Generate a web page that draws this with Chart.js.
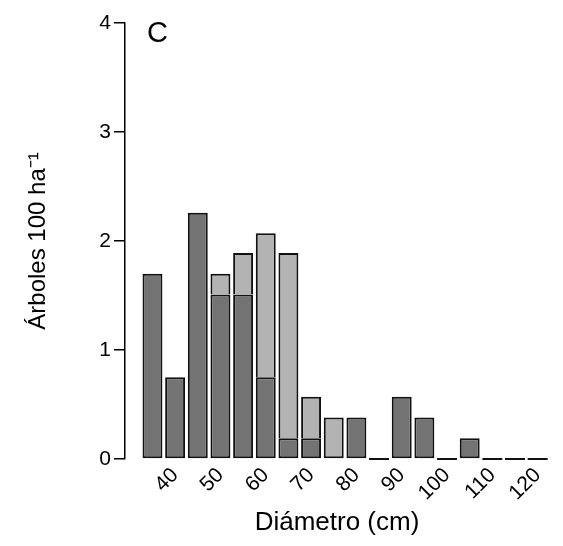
<!DOCTYPE html>
<html>
<head>
<meta charset="utf-8">
<script src="https://cdn.jsdelivr.net/npm/chart.js@4/dist/chart.umd.min.js"></script>
<style>
html,body{margin:0;padding:0;background:#fff;}
#wrap{width:563px;height:546px;}
</style>
</head>
<body>
<div id="wrap"><canvas id="c" width="563" height="546"></canvas></div>
<script>
// Diameter class (cm)
const diameters = [35, 40, 45, 50, 55, 60, 65, 70, 75, 80, 85, 90, 95, 100, 105, 110, 115, 120];
// Trees per 100 ha, dark (lower) series
const darkValues = [1.70, 0.75, 2.26, 1.51, 1.51, 0.75, 0.19, 0.19, 0, 0.38, 0, 0.57, 0.38, 0, 0.19, 0, 0, 0];
// Trees per 100 ha, light (upper) series
const lightValues = [0, 0, 0, 0.19, 0.38, 1.32, 1.70, 0.38, 0.38, 0, 0, 0, 0, 0, 0, 0, 0, 0];
const xTicks = [40, 50, 60, 70, 80, 90, 100, 110, 120];
const yTicks = [0, 1, 2, 3, 4];
const panelLabel = 'C';
const xTitle = 'Diámetro (cm)';
const yTitle = 'Árboles 100 ha⁻¹';

const FONT = "'Liberation Sans', Arial, Helvetica, sans-serif";

const zeroBars = {
  id: 'zeroBars',
  afterDatasetsDraw(chart) {
    const meta = chart.getDatasetMeta(0);
    const y0 = chart.scales.y.getPixelForValue(0);
    const ctx = chart.ctx;
    ctx.save();
    ctx.strokeStyle = '#111';
    ctx.lineWidth = 2;
    diameters.forEach((d, i) => {
      if (darkValues[i] + lightValues[i] === 0) {
        const el = meta.data[i];
        ctx.beginPath();
        ctx.moveTo(el.x - el.width / 2, y0);
        ctx.lineTo(el.x + el.width / 2, y0);
        ctx.stroke();
      }
    });
    ctx.restore();
  }
};

const panelText = {
  id: 'panelText',
  afterDraw(chart) {
    const ctx = chart.ctx;
    const a = chart.chartArea;
    ctx.save();
    ctx.fillStyle = '#000';
    ctx.font = '29px ' + FONT;
    ctx.textAlign = 'left';
    ctx.textBaseline = 'alphabetic';
    ctx.fillText(panelLabel, a.left + 22, a.top + 19);
    ctx.restore();
  }
};

new Chart(document.getElementById('c'), {
  type: 'bar',
  data: {
    datasets: [
      {
        data: diameters.map((d, i) => ({x: d, y: darkValues[i]})),
        backgroundColor: '#737373',
        borderColor: '#111',
        borderWidth: 2,
        borderSkipped: false,
        categoryPercentage: 1,
        barPercentage: 0.88
      },
      {
        data: diameters.map((d, i) => ({x: d, y: lightValues[i]})),
        backgroundColor: '#b3b3b3',
        borderColor: '#111',
        borderWidth: 2,
        borderSkipped: (c) => darkValues[c.dataIndex] > 0 ? 'bottom' : false,
        categoryPercentage: 1,
        barPercentage: 0.88
      }
    ]
  },
  options: {
    responsive: false,
    animation: false,
    devicePixelRatio: 1,
    layout: {padding: {left: 0, right: 14, top: 23, bottom: 0}},
    plugins: {legend: {display: false}, tooltip: {enabled: false}},
    scales: {
      x: {
        type: 'linear',
        stacked: true,
        offset: false,
        min: 28.94,
        max: 122.5,
        afterBuildTicks(s) { s.ticks = xTicks.map(v => ({value: v})); },
        grid: {display: false, drawTicks: false},
        border: {display: false},
        ticks: {
          autoSkip: false,
          maxRotation: 45,
          minRotation: 45,
          padding: 4,
          color: '#000',
          font: {family: FONT, size: 21}
        },
        title: {
          display: true,
          text: xTitle,
          color: '#000',
          font: {family: FONT, size: 26},
          padding: {top: 0, bottom: 8}
        },
        afterFit(s) { s.height = 87; }
      },
      y: {
        stacked: true,
        min: 0,
        max: 4,
        afterBuildTicks(s) { s.ticks = yTicks.map(v => ({value: v})); },
        grid: {display: true, drawOnChartArea: false, drawTicks: true, tickLength: 11, color: '#000', lineWidth: 1.5},
        border: {display: true, color: '#000', width: 1.5},
        ticks: {
          padding: 3,
          color: '#000',
          font: {family: FONT, size: 21}
        },
        title: {
          display: true,
          text: yTitle,
          color: '#000',
          font: {family: FONT, size: 24},
          padding: {top: 24, bottom: 0}
        },
        afterFit(s) { s.width = 125; }
      }
    }
  },
  plugins: [zeroBars, panelText]
});
</script>
</body>
</html>
